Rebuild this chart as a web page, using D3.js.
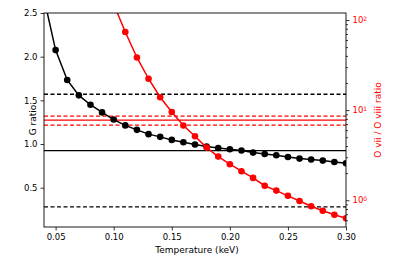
<!DOCTYPE html>
<html>
<head>
<meta charset="utf-8">
<script src="https://cdn.jsdelivr.net/npm/d3@7"></script>
<style>
  body { margin: 0; background: #fff; }
  svg text { font-family: "DejaVu Sans", sans-serif; }
</style>
</head>
<body>
<svg id="chart"></svg>
<script>
// temperatures (keV)
const temps = [0.04, 0.05, 0.06, 0.07, 0.08, 0.09, 0.10, 0.11, 0.12, 0.13, 0.14, 0.15, 0.16, 0.17,
  0.18, 0.19, 0.20, 0.21, 0.22, 0.23, 0.24, 0.25, 0.26, 0.27, 0.28, 0.29, 0.30];
// G ratio model (left axis)
const gRatio = [2.67, 2.075, 1.733, 1.557, 1.45, 1.362, 1.28, 1.213, 1.162, 1.113, 1.082, 1.047, 1.021, 0.994,
  0.971, 0.955, 0.94, 0.925, 0.902, 0.886, 0.871, 0.852, 0.833, 0.822, 0.81, 0.794, 0.78];
// O vii / O viii model ratio (right axis, log)
const ratioTemps = [0.10, 0.11, 0.12, 0.13, 0.14, 0.15, 0.16, 0.17, 0.18, 0.19, 0.20, 0.21, 0.22,
  0.23, 0.24, 0.25, 0.26, 0.27, 0.28, 0.29, 0.30];
const oRatio = [150, 73.6, 38.4, 22.3, 13.9, 9.55, 6.74, 5.14, 3.84, 3.05, 2.51, 2.10, 1.77,
  1.45, 1.28, 1.12, 0.98, 0.857, 0.766, 0.691, 0.63];
// observed values
const gObs = { value: 0.925, low: 0.28, high: 1.57 };
const oObs = { value: 7.74, low: 6.81, high: 8.58 };

const xTicks = [0.05, 0.10, 0.15, 0.20, 0.25, 0.30];
const gTicks = [0.5, 1.0, 1.5, 2.0, 2.5];
const oTicks = [1, 10, 100];

const W = 399, H = 266;
const margin = { top: 13, right: 53, bottom: 39, left: 44 };
const width = W - margin.left - margin.right;
const height = H - margin.top - margin.bottom;

const svg = d3.select("#chart").attr("width", W).attr("height", H);
const g = svg.append("g").attr("transform", "translate(" + margin.left + "," + margin.top + ")");

const x = d3.scaleLinear().domain([0.04, 0.30]).range([0, width]);
const yL = d3.scaleLinear().domain([0.05, 2.5]).range([height, 0]);
const yR = d3.scaleLog().domain([0.505, 119.6]).range([height, 0]);

g.append("clipPath").attr("id", "clip")
  .append("rect").attr("width", width).attr("height", height);

const plot = g.append("g").attr("clip-path", "url(#clip)");

// observed G ratio lines
[["high", "4,2.5"], ["value", null], ["low", "4,2.5"]].forEach(([k, dash]) => {
  plot.append("line")
    .attr("x1", 0).attr("x2", width)
    .attr("y1", yL(gObs[k])).attr("y2", yL(gObs[k]))
    .attr("stroke", "#000").attr("stroke-width", 1.3)
    .attr("stroke-dasharray", dash);
});
// observed O ratio lines
[["high", "4,2.5"], ["value", null], ["low", "4,2.5"]].forEach(([k, dash]) => {
  plot.append("line")
    .attr("x1", 0).attr("x2", width)
    .attr("y1", yR(oObs[k])).attr("y2", yR(oObs[k]))
    .attr("stroke", "#ff0000").attr("stroke-width", 1.3)
    .attr("stroke-dasharray", dash);
});

// G ratio curve
const gData = temps.map((t, i) => ({ t: t, v: gRatio[i] }));
plot.append("path").datum(gData)
  .attr("fill", "none").attr("stroke", "#000").attr("stroke-width", 1.5)
  .attr("d", d3.line().x(d => x(d.t)).y(d => yL(d.v)));
plot.append("g").selectAll("circle").data(gData).enter().append("circle")
  .attr("cx", d => x(d.t)).attr("cy", d => yL(d.v)).attr("r", 3.3)
  .style("fill", "#000");

// O ratio curve
const oData = ratioTemps.map((t, i) => ({ t: t, v: oRatio[i] }));
plot.append("path").datum(oData)
  .attr("fill", "none").attr("stroke", "#ff0000").attr("stroke-width", 1.5)
  .attr("d", d3.line().x(d => x(d.t)).y(d => yR(d.v)));
plot.append("g").selectAll("circle").data(oData).enter().append("circle")
  .attr("cx", d => x(d.t)).attr("cy", d => yR(d.v)).attr("r", 3.3)
  .style("fill", "#ff0000");

// frame
g.append("rect").attr("width", width).attr("height", height)
  .attr("fill", "none").attr("stroke", "#000").attr("stroke-width", 0.9);

// x axis
const xAxis = g.append("g").attr("transform", "translate(0," + height + ")")
  .call(d3.axisBottom(x).tickValues(xTicks).tickFormat(d3.format(".2f")).tickSize(3.5).tickPadding(3));
// left axis
const lAxis = g.append("g")
  .call(d3.axisLeft(yL).tickValues(gTicks).tickFormat(d3.format(".1f")).tickSize(3.5).tickPadding(3));
// right axis (log)
const minor = [];
for (let e = -1; e <= 2; e++) {
  for (let m = 2; m <= 9; m++) {
    const v = m * Math.pow(10, e);
    if (v >= yR.domain()[0] && v <= yR.domain()[1]) minor.push(v);
  }
}
const rMinor = g.append("g").attr("transform", "translate(" + width + ",0)")
  .call(d3.axisRight(yR).tickValues(minor).tickFormat("").tickSize(2));
const rAxis = g.append("g").attr("transform", "translate(" + width + ",0)")
  .call(d3.axisRight(yR).tickValues(oTicks).tickFormat("").tickSize(3.5));

[xAxis, lAxis, rAxis, rMinor].forEach(a => {
  a.select(".domain").remove();
  a.selectAll("line").attr("stroke", "#000").attr("stroke-width", 0.8);
  a.selectAll("text").attr("font-size", 8.5).attr("fill", "#000");
});

// log labels 10^n
rAxis.selectAll(".tick").each(function (d) {
  const t = d3.select(this).append("text")
    .attr("x", 6.5).attr("dy", "0.32em").attr("fill", "#ff0000").attr("font-size", 8.5);
  t.append("tspan").text("10");
  t.append("tspan").attr("dy", "-0.45em").attr("font-size", 6).text(Math.round(Math.log10(d)));
});

// axis titles
svg.append("text")
  .attr("x", margin.left + width / 2 + 2).attr("y", 253)
  .attr("text-anchor", "middle").attr("font-size", 9).text("Temperature (keV)");
svg.append("text")
  .attr("transform", "translate(36," + (margin.top + height / 2) + ") rotate(-90)")
  .attr("text-anchor", "middle").attr("font-size", 9).text("G ratio");
svg.append("text")
  .attr("transform", "translate(381," + (margin.top + height / 2) + ") rotate(-90)")
  .attr("text-anchor", "middle").attr("font-size", 9).attr("fill", "#ff0000")
  .text("O vii / O viii ratio");
</script>
</body>
</html>
